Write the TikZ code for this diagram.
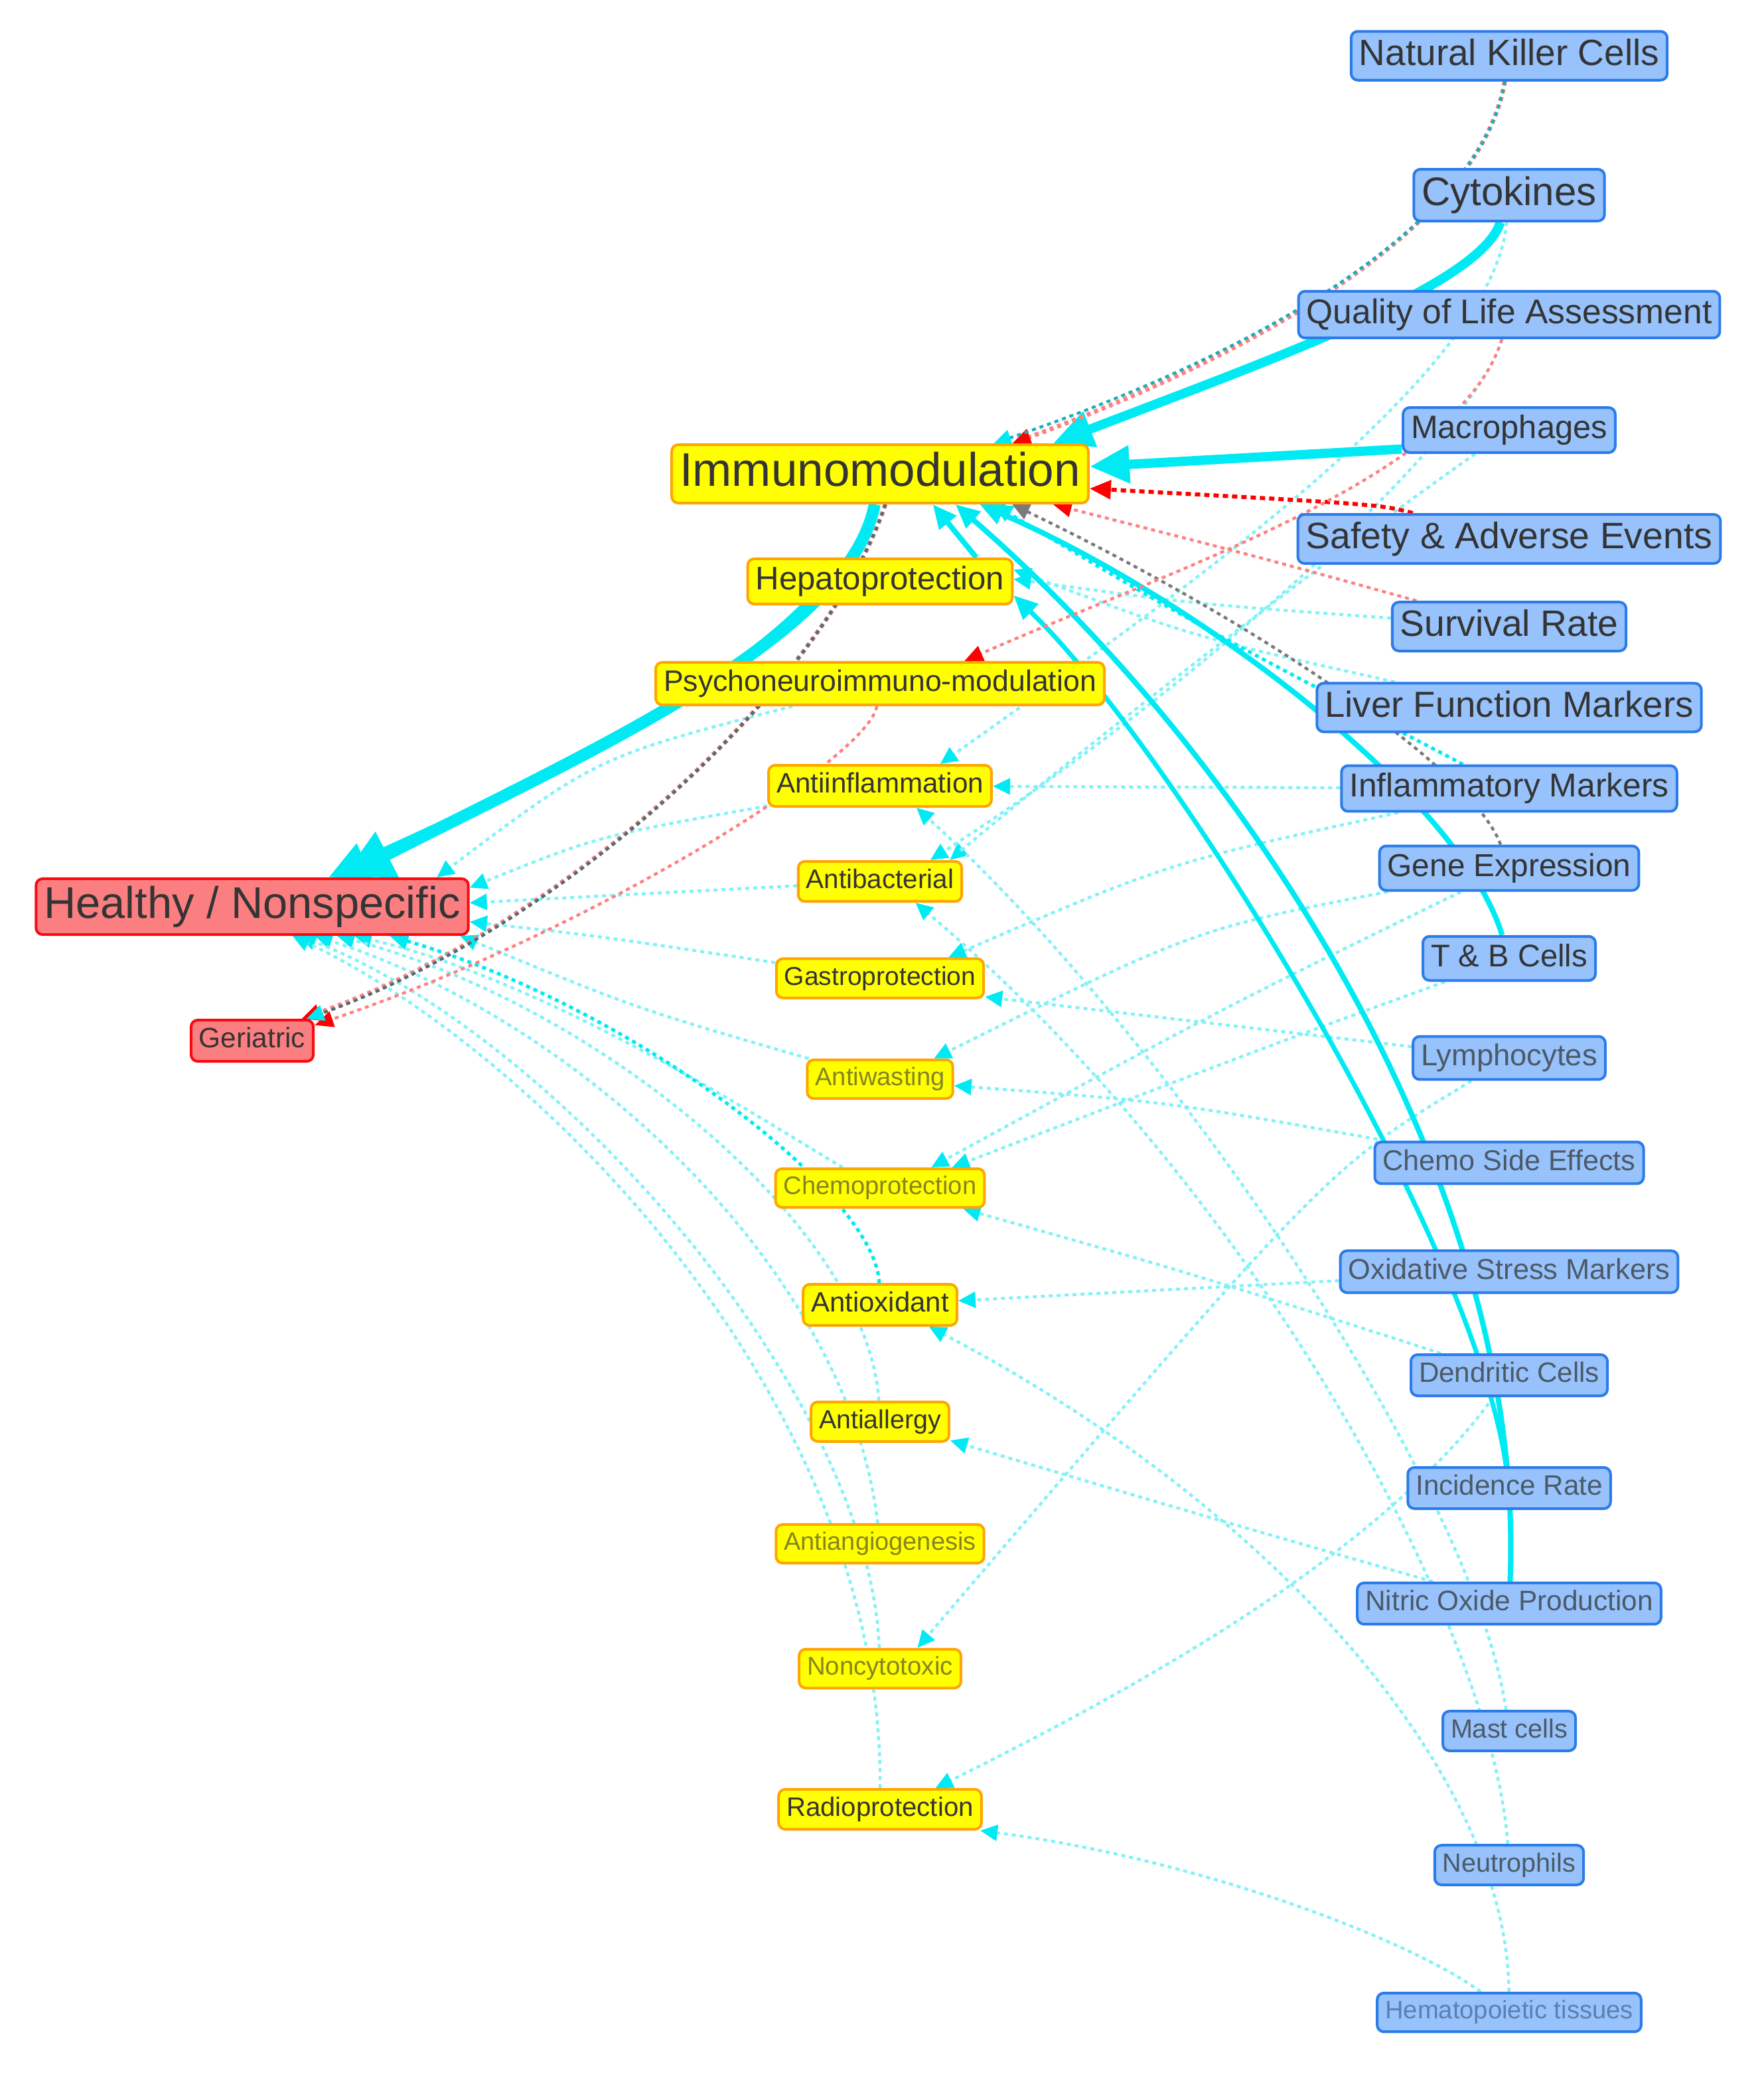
\documentclass[tikz,border=0pt]{standalone}
\usepackage{fontspec}
\setmainfont{Liberation Sans}
\usetikzlibrary{arrows.meta,backgrounds}

\definecolor{mfill}{HTML}{97C2FC}
\definecolor{mline}{HTML}{2B7CE9}
\definecolor{efill}{HTML}{FFFF00}
\definecolor{eline}{HTML}{FFA500}
\definecolor{pfill}{HTML}{FB7E81}
\definecolor{pline}{HTML}{FA0A10}
\definecolor{txtc}{HTML}{343434}
\definecolor{cyanE}{HTML}{00EAF4}
\definecolor{cyanL}{HTML}{80F2F8}
\definecolor{tealE}{HTML}{1AAFB8}
\definecolor{slateE}{HTML}{4F6F73}
\definecolor{salmon}{HTML}{FF8080}
\definecolor{grayE}{HTML}{7A7A7A}
\definecolor{fadeY}{HTML}{85851E}
\definecolor{fadeB}{HTML}{4C5A68}
\definecolor{fadeH}{HTML}{5A80B0}

\tikzset{
  basebox/.style={rounded corners=5pt, line width=2pt, inner xsep=6pt, inner ysep=1pt, text=txtc,
    font=\fontsize{#1}{#1}\selectfont, minimum height={0.9*#1pt+12pt},
    execute at begin node={\vphantom{Hg}}},
  measurebox/.style={basebox=#1, fill=mfill, draw=mline},
  effectbox/.style={basebox=#1, fill=efill, draw=eline},
  popbox/.style={basebox=#1, fill=pfill, draw=pline},
  lightdot/.style={draw=cyanL, line width=2.2pt, dash pattern=on 3pt off 3pt,
    -{Triangle[length=13pt,width=12pt,color=cyanE]}},
  darkdot/.style={draw=cyanE, line width=2.6pt, dash pattern=on 3pt off 3pt,
    -{Triangle[length=14pt,width=13pt]}},
  heavy/.style={draw=cyanE, line width=#1},
  tipS/.style={-{Triangle[length=18pt,width=16pt]}},
  tipM/.style={-{Triangle[length=30pt,width=27pt]}},
  tipL/.style={-{Triangle[length=38pt,width=36pt]}},
  reddash/.style={draw=red, line width=3pt, dash pattern=on 4pt off 3pt,
    -{Triangle[length=16pt,width=14pt]}},
  salmondash/.style={draw=salmon, line width=2.2pt, dash pattern=on 3pt off 3pt,
    -{Triangle[length=14pt,width=12pt,color=red]}},
  graydash/.style={draw=grayE, line width=2.2pt, dash pattern=on 3pt off 3pt,
    -{Triangle[length=13pt,width=12pt]}}
}

\begin{document}
\begin{tikzpicture}[x=1pt,y=-1pt]
\useasboundingbox (0,0) rectangle (1329,1582);

% Measures
\node[measurebox=27.5] (nk) at (1137,42) {Natural Killer Cells};
\node[measurebox=30] (cyto) at (1137,147) {Cytokines};
\node[measurebox=25.8] (qol) at (1137,237) {Quality of Life Assessment};
\node[measurebox=24.4] (macro) at (1137,324) {Macrophages};
\node[measurebox=27.7] (safety) at (1137,406) {Safety \& Adverse Events};
\node[measurebox=27.6] (surv) at (1137,472) {Survival Rate};
\node[measurebox=27.3] (liver) at (1137,533) {Liver Function Markers};
\node[measurebox=24.9] (inflm) at (1137,594) {Inflammatory Markers};
\node[measurebox=23.9] (gene) at (1137,654) {Gene Expression};
\node[measurebox=23.6] (tb) at (1137,722) {T \& B Cells};
\node[measurebox=22.7, text=fadeB] (lymph) at (1137,797) {Lymphocytes};
\node[measurebox=21.6, text=fadeB] (chemose) at (1137,876) {Chemo Side Effects};
\node[measurebox=21.7, text=fadeB] (oxs) at (1137,958) {Oxidative Stress Markers};
\node[measurebox=21.1, text=fadeB] (dend) at (1137,1036) {Dendritic Cells};
\node[measurebox=21.1, text=fadeB] (incid) at (1137,1121) {Incidence Rate};
\node[measurebox=21.2, text=fadeB] (nitric) at (1137,1208) {Nitric Oxide Production};
\node[measurebox=19.8, text=fadeB] (mast) at (1137,1304) {Mast cells};
\node[measurebox=19.8, text=fadeB] (neutro) at (1137,1405) {Neutrophils};
\node[measurebox=19.1, text=fadeH] (hemato) at (1137,1516) {Hematopoietic tissues};

% Effects
\node[effectbox=35.5] (immuno) at (663,357) {Immunomodulation};
\node[effectbox=24.6] (hepato) at (663,438) {Hepatoprotection};
\node[effectbox=22.3] (pni) at (663,515) {Psychoneuroimmuno-modulation};
\node[effectbox=21.1] (antiinf) at (663,592) {Antiinflammation};
\node[effectbox=20.2] (antibac) at (663,664) {Antibacterial};
\node[effectbox=19.5] (gastro) at (663,737) {Gastroprotection};
\node[effectbox=19.1, text=fadeY] (antiwast) at (663,813) {Antiwasting};
\node[effectbox=19.1, text=fadeY] (chemopro) at (663,895) {Chemoprotection};
\node[effectbox=21] (antiox) at (663,983) {Antioxidant};
\node[effectbox=19.7] (antiall) at (663,1071) {Antiallergy};
\node[effectbox=19, text=fadeY] (antiang) at (663,1163) {Antiangiogenesis};
\node[effectbox=19.2, text=fadeY] (noncyt) at (663,1257) {Noncytotoxic};
\node[effectbox=20.1] (radio) at (663,1363) {Radioprotection};

% Populations
\node[popbox=33.4] (healthy) at (190,683) {Healthy / Nonspecific};
\node[popbox=21.2] (geriatric) at (190,784) {Geriatric};

\begin{scope}[on background layer]
\fill[white] (0,0) rectangle (1329,1582);

% measures to effects
\draw[lightdot] (cyto) .. controls (1125,280) and (900,440) .. (antiinf.20);
\draw[lightdot] (qol) .. controls (1110,330) and (900,520) .. (antibac.23);
\draw[lightdot] (macro) .. controls (1000,420) and (820,560) .. (antibac.17);
\draw[lightdot] (inflm) -- (antiinf);
\draw[lightdot] (mast) .. controls (1110,1120) and (880,780) .. (antiinf.-31);
\draw[lightdot] (neutro) .. controls (1125,1230) and (950,900) .. (antibac.-31);
\draw[lightdot] (inflm) .. controls (880,650) .. (gastro.17);
\draw[lightdot] (lymph) -- (gastro.-10);
\draw[lightdot] (gene) .. controls (900,700) .. (antiwast.21);
\draw[lightdot] (chemose) .. controls (880,830) .. (antiwast.-5);
\draw[lightdot] (gene) .. controls (920,760) .. (chemopro.22);
\draw[lightdot] (tb) .. controls (950,790) .. (chemopro.16);
\draw[lightdot] (dend) .. controls (900,960) .. (chemopro.-14);
\draw[lightdot] (oxs) -- (antiox);
\draw[lightdot] (hemato) .. controls (1135,1330) and (950,1130) .. (antiox.-24);
\draw[lightdot] (nitric) .. controls (900,1140) .. (antiall.-15);
\draw[lightdot] (lymph) .. controls (1000,880) .. (noncyt.29);
\draw[lightdot] (dend) .. controls (1040,1170) and (860,1270) .. (radio.21);
\draw[lightdot] (hemato) .. controls (1060,1460) and (900,1400) .. (radio.-12);
\draw[lightdot] (liver) .. controls (900,480) .. (hepato.5);
\draw[lightdot] (surv) .. controls (900,455) .. (hepato.1);

% effects to populations
\draw[lightdot] (pni) .. controls (450,570) .. (healthy.9);
\draw[lightdot] (antiinf) .. controls (450,630) .. (healthy.5);
\draw[lightdot] (antibac) -- (healthy.1);
\draw[lightdot] (gastro) .. controls (450,705) .. (healthy.-4);
\draw[lightdot] (antiwast) .. controls (480,760) .. (healthy.-8);
\draw[lightdot] (chemopro) .. controls (600,860) and (420,740) .. (healthy.-16);
\draw[lightdot] (antiall) .. controls (655,930) and (460,760) .. (healthy.-19);
\draw[lightdot] (antiang) .. controls (640,960) and (440,770) .. (healthy.-25);
\draw[lightdot] (noncyt) .. controls (655,1050) and (420,780) .. (healthy.-32);
\draw[lightdot] (radio) .. controls (665,1050) and (400,790) .. (healthy.-36);
\draw[darkdot] (antiox) .. controls (660,900) and (480,760) .. (healthy.-12);
\draw[darkdot] (inflm) .. controls (900,470) .. (immuno.-15);

% solid links
\draw[heavy=4pt, tipS] (tb) .. controls (1100,600) and (900,450) .. (immuno.-17);
\draw[heavy=4pt, tipS] (nitric) .. controls (1150,900) and (950,580) .. (immuno.-22);
\draw[heavy=3.5pt, tipS] (incid) .. controls (1110,930) and (880,560) .. (hepato.-6);
\draw[heavy=4pt, tipS] (hepato.14) -- (immuno.-30);
\draw[heavy=7pt, tipM] (cyto) .. controls (1115,215) and (960,270) .. (immuno.10);
\draw[heavy=7pt, tipM] (macro.190) -- (immuno.2);
\draw[heavy=9pt, tipL] (immuno.-100) .. controls (640,480) and (442,567) .. (healthy.18);
\draw[heavy=7pt, tipM] (hepato.-162) .. controls (533,531) and (388,597) .. (healthy.21);

% red and gray links
\draw[salmondash, line width=3.4pt] (nk) .. controls (1115,170) and (950,265) .. (immuno.13);
\draw[lightdot, draw=tealE] (nk) .. controls (1115,170) and (950,265) .. (immuno.15);
\draw[reddash] (safety) .. controls (1040,380) .. (immuno.-4);
\draw[salmondash] (surv) .. controls (950,420) .. (immuno.-10);
\draw[graydash] (gene) .. controls (1110,580) and (950,470) .. (immuno.-13);
\draw[salmondash] (qol) .. controls (1100,360) and (880,430) .. (pni.15);
\draw[salmondash] (pni) .. controls (655,570) and (450,700) .. (geriatric.14);
\draw[salmondash, line width=3.4pt] (immuno.-80) .. controls (620,520) and (420,700) .. (geriatric.24);
\draw[graydash, draw=slateE, -{Triangle[length=13pt,width=12pt,color=cyanE]}] (immuno.-80) .. controls (620,520) and (420,700) .. (geriatric.22);
\end{scope}
\end{tikzpicture}
\end{document}
